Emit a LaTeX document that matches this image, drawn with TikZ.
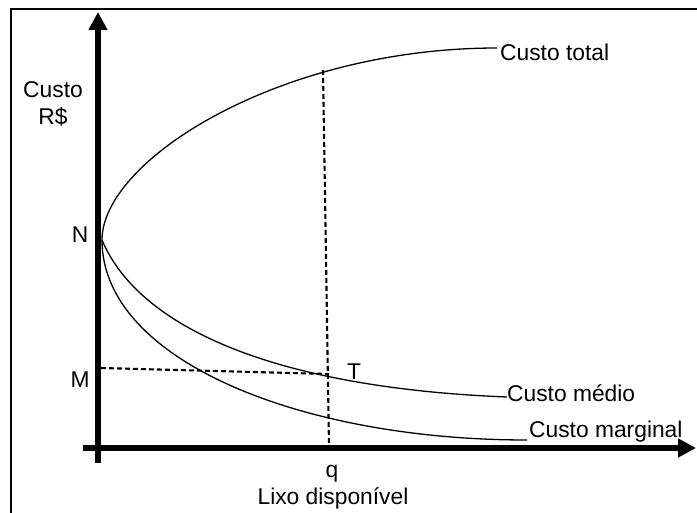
\documentclass[tikz,border=0pt]{standalone}
\usepackage{fontspec}
\setmainfont{Liberation Sans}
\usetikzlibrary{arrows.meta}
\begin{document}
\begin{tikzpicture}[x=1pt,y=-1pt,
  axis/.style={line width=6.5pt,-{Triangle[length=18pt,width=18pt]}},
  curve/.style={line width=1.3pt},
  guide/.style={line width=2.1pt,dash pattern=on 5pt off 3pt},
  lbl/.style={font=\fontsize{22.8}{26}\selectfont,inner sep=0pt},
  frame/.style={line width=2pt}]
\useasboundingbox (0,0) rectangle (697,513);
\clip (0,0) rectangle (697,513);
\draw[frame] (11,9) rectangle (730,540);
% axes
\coordinate (ybot) at (98,463);
\coordinate (ytop) at (98,12);
\coordinate (xleft) at (83,448);
\coordinate (xright) at (696,448);
\draw[axis] (ybot) -- (ytop);
\draw[axis] (xleft) -- (xright);
% curves
\coordinate (N) at (102,240);
\coordinate (TotEnd) at (497,48);
\coordinate (MedEnd) at (507,397);
\coordinate (MarEnd) at (527,440);
\draw[curve] (N) .. controls (102,160) and (280,48) .. (TotEnd);
\draw[curve] (N) .. controls (140,330) and (280,388) .. (MedEnd);
\draw[curve] (N) .. controls (102,360) and (300,440) .. (MarEnd);
% guides
\coordinate (qtop) at (323,70);
\coordinate (qbot) at (329,445);
\coordinate (Mleft) at (101,368);
\coordinate (Tpt) at (329,374);
\draw[guide] (qtop) -- (qbot);
\draw[guide] (Mleft) -- (Tpt);
% labels
\node[lbl,anchor=base] (lcusto) at (53,98) {Custo};
\node[lbl,anchor=base] (lrs) at (53,125) {R\$};
\node[lbl,anchor=base] (lN) at (80,243) {N};
\node[lbl,anchor=base] (lM) at (80,388) {M};
\node[lbl,anchor=base] (lT) at (354,380) {T};
\node[lbl,anchor=base] (lq) at (332,477) {q};
\node[lbl,anchor=base] (llixo) at (333,504) {Lixo disponível};
\node[lbl,anchor=base west] (ltot) at (500,61) {Custo total};
\node[lbl,anchor=base west] (lmed) at (507,402) {Custo médio};
\node[lbl,anchor=base west] (lmar) at (529,438) {Custo marginal};
\end{tikzpicture}
\end{document}
